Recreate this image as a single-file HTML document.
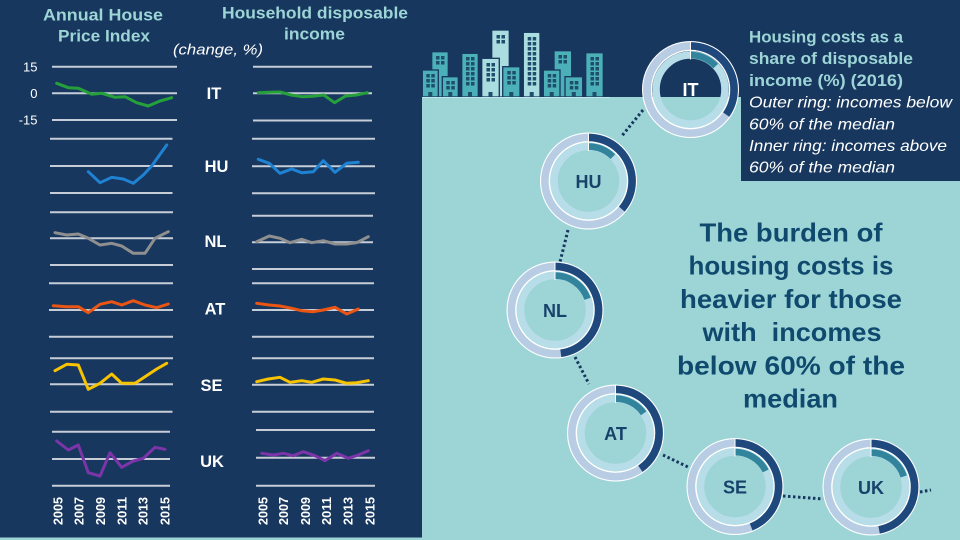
<!DOCTYPE html>
<html>
<head>
<meta charset="utf-8">
<style>
html,body{margin:0;padding:0;background:#17375e;}
svg{display:block;}
text{font-family:"Liberation Sans",sans-serif;}
</style>
</head>
<body>
<svg width="960" height="540" viewBox="0 0 960 540" xmlns="http://www.w3.org/2000/svg">
<rect x="0" y="0" width="960" height="540" fill="#17375e"/>
<rect x="422" y="97" width="538" height="443" fill="#9dd5d7"/>
<rect x="0" y="537.5" width="960" height="2.5" fill="#9dd5d7"/>
<rect x="741" y="0" width="219" height="181" fill="#17375e"/>

<!-- Buildings -->
<g stroke="#17375e" stroke-width="1.3">
  <rect x="431.7" y="51.7" width="16.6" height="45.3" fill="#4bb0b8"/>
  <rect x="491.7" y="30" width="17.6" height="67" fill="#a9dde0"/>
  <rect x="554" y="50.7" width="17.7" height="46.3" fill="#4bb0b8"/>
  <rect x="422.3" y="70" width="16" height="27" fill="#4bb0b8"/>
  <rect x="442.3" y="76.7" width="16" height="20.3" fill="#4bb0b8"/>
  <rect x="461.7" y="53.3" width="16.6" height="43.7" fill="#4bb0b8"/>
  <rect x="481.7" y="58.3" width="17.6" height="38.7" fill="#a9dde0"/>
  <rect x="502.7" y="66.7" width="17.3" height="30.3" fill="#4bb0b8"/>
  <rect x="523.3" y="32.3" width="16.7" height="64.7" fill="#a9dde0"/>
  <rect x="543.3" y="70" width="16.7" height="27" fill="#4bb0b8"/>
  <rect x="565" y="76.7" width="17.7" height="20.3" fill="#4bb0b8"/>
  <rect x="585.7" y="52.7" width="17.6" height="44.3" fill="#4bb0b8"/>
</g>
<g fill="#1f4d6c">
  <rect x="436" y="56" width="3.5" height="3.5"/><rect x="441" y="56" width="3.5" height="3.5"/>
  <rect x="436" y="61" width="3.5" height="3.5"/><rect x="441" y="61" width="3.5" height="3.5"/>
  <rect x="496.5" y="35" width="3.5" height="3.5"/><rect x="501.5" y="35" width="3.5" height="3.5"/>
  <rect x="496.5" y="40" width="3.5" height="3.5"/><rect x="501.5" y="40" width="3.5" height="3.5"/>
  <rect x="558.5" y="55" width="3.5" height="3.5"/><rect x="563.5" y="55" width="3.5" height="3.5"/>
  <rect x="558.5" y="60" width="3.5" height="3.5"/><rect x="563.5" y="60" width="3.5" height="3.5"/>
  <rect x="426.3" y="74" width="3.5" height="3.5"/><rect x="431.3" y="74" width="3.5" height="3.5"/>
  <rect x="426.3" y="79" width="3.5" height="3.5"/><rect x="431.3" y="79" width="3.5" height="3.5"/>
  <rect x="426.3" y="84" width="3.5" height="3.5"/><rect x="431.3" y="84" width="3.5" height="3.5"/>
  <rect x="446.3" y="81" width="3.5" height="3.5"/><rect x="451.3" y="81" width="3.5" height="3.5"/>
  <rect x="446.3" y="86" width="3.5" height="3.5"/><rect x="451.3" y="86" width="3.5" height="3.5"/>
  <rect x="466" y="57" width="3.5" height="3.5"/><rect x="471" y="57" width="3.5" height="3.5"/>
  <rect x="466" y="62" width="3.5" height="3.5"/><rect x="471" y="62" width="3.5" height="3.5"/>
  <rect x="466" y="67" width="3.5" height="3.5"/><rect x="471" y="67" width="3.5" height="3.5"/>
  <rect x="466" y="72" width="3.5" height="3.5"/><rect x="471" y="72" width="3.5" height="3.5"/>
  <rect x="466" y="77" width="3.5" height="3.5"/><rect x="471" y="77" width="3.5" height="3.5"/>
  <rect x="466" y="82" width="3.5" height="3.5"/><rect x="471" y="82" width="3.5" height="3.5"/>
  <rect x="486.5" y="63" width="3.5" height="3.5"/><rect x="491.5" y="63" width="3.5" height="3.5"/>
  <rect x="486.5" y="68" width="3.5" height="3.5"/><rect x="491.5" y="68" width="3.5" height="3.5"/>
  <rect x="486.5" y="73" width="3.5" height="3.5"/><rect x="491.5" y="73" width="3.5" height="3.5"/>
  <rect x="486.5" y="78" width="3.5" height="3.5"/><rect x="491.5" y="78" width="3.5" height="3.5"/>
  <rect x="507.3" y="71" width="3.5" height="3.5"/><rect x="512.3" y="71" width="3.5" height="3.5"/>
  <rect x="507.3" y="76" width="3.5" height="3.5"/><rect x="512.3" y="76" width="3.5" height="3.5"/>
  <rect x="507.3" y="81" width="3.5" height="3.5"/><rect x="512.3" y="81" width="3.5" height="3.5"/>
  <rect x="527.7" y="37" width="3.5" height="3.5"/><rect x="532.7" y="37" width="3.5" height="3.5"/>
  <rect x="527.7" y="42" width="3.5" height="3.5"/><rect x="532.7" y="42" width="3.5" height="3.5"/>
  <rect x="527.7" y="47" width="3.5" height="3.5"/><rect x="532.7" y="47" width="3.5" height="3.5"/>
  <rect x="527.7" y="52" width="3.5" height="3.5"/><rect x="532.7" y="52" width="3.5" height="3.5"/>
  <rect x="527.7" y="57" width="3.5" height="3.5"/><rect x="532.7" y="57" width="3.5" height="3.5"/>
  <rect x="527.7" y="62" width="3.5" height="3.5"/><rect x="532.7" y="62" width="3.5" height="3.5"/>
  <rect x="527.7" y="67" width="3.5" height="3.5"/><rect x="532.7" y="67" width="3.5" height="3.5"/>
  <rect x="527.7" y="72" width="3.5" height="3.5"/><rect x="532.7" y="72" width="3.5" height="3.5"/>
  <rect x="527.7" y="77" width="3.5" height="3.5"/><rect x="532.7" y="77" width="3.5" height="3.5"/>
  <rect x="527.7" y="82" width="3.5" height="3.5"/><rect x="532.7" y="82" width="3.5" height="3.5"/>
  <rect x="547.7" y="74" width="3.5" height="3.5"/><rect x="552.7" y="74" width="3.5" height="3.5"/>
  <rect x="547.7" y="79" width="3.5" height="3.5"/><rect x="552.7" y="79" width="3.5" height="3.5"/>
  <rect x="547.7" y="84" width="3.5" height="3.5"/><rect x="552.7" y="84" width="3.5" height="3.5"/>
  <rect x="569.8" y="81" width="3.5" height="3.5"/><rect x="574.8" y="81" width="3.5" height="3.5"/>
  <rect x="569.8" y="86" width="3.5" height="3.5"/><rect x="574.8" y="86" width="3.5" height="3.5"/>
  <rect x="590.5" y="57" width="3.5" height="3.5"/><rect x="595.5" y="57" width="3.5" height="3.5"/>
  <rect x="590.5" y="62" width="3.5" height="3.5"/><rect x="595.5" y="62" width="3.5" height="3.5"/>
  <rect x="590.5" y="67" width="3.5" height="3.5"/><rect x="595.5" y="67" width="3.5" height="3.5"/>
  <rect x="590.5" y="72" width="3.5" height="3.5"/><rect x="595.5" y="72" width="3.5" height="3.5"/>
  <rect x="590.5" y="77" width="3.5" height="3.5"/><rect x="595.5" y="77" width="3.5" height="3.5"/>
  <rect x="590.5" y="82" width="3.5" height="3.5"/><rect x="595.5" y="82" width="3.5" height="3.5"/>
  <rect x="428.3" y="92" width="4" height="5"/><rect x="448.3" y="92" width="4" height="5"/>
  <rect x="468" y="92" width="4" height="5"/><rect x="488.5" y="92" width="4" height="5"/>
  <rect x="509.3" y="92" width="4" height="5"/><rect x="529.7" y="92" width="4" height="5"/>
  <rect x="549.7" y="92" width="4" height="5"/><rect x="571.8" y="92" width="4" height="5"/>
  <rect x="592.5" y="92" width="4" height="5"/>
</g>
<line x1="422" y1="97.5" x2="610" y2="97.5" stroke="#bfe6e8" stroke-width="1"/>

<!-- dotted connectors -->
<g stroke="#17375e" stroke-width="3" stroke-dasharray="2.5 2.5" fill="none">
  <line x1="643" y1="110" x2="621" y2="137"/>
  <line x1="568" y1="230" x2="560" y2="262"/>
  <line x1="575" y1="357" x2="589" y2="384"/>
  <line x1="663" y1="455" x2="688" y2="467"/>
  <line x1="783" y1="496" x2="823" y2="499"/>
  <line x1="920" y1="492" x2="931" y2="490"/>
</g>

<!-- Donuts -->
<defs>
  <g id="ring">
    <circle r="47.8" fill="none" stroke="#ffffff" stroke-width="1.4"/>
    <circle r="43.6" fill="none" stroke="#b8cce4" stroke-width="7.6"/>
    <circle r="39.1" fill="none" stroke="#ffffff" stroke-width="1.5"/>
    <circle r="34.4" fill="none" stroke="#b6dde8" stroke-width="7.4"/>
  </g>
</defs>
<g transform="translate(690.5,89.5)">
  <use href="#ring"/>
  <circle r="43.6" fill="none" stroke="#1f497d" stroke-width="7.6" stroke-dasharray="95.1 400" transform="rotate(-90)"/>
  <circle r="34.4" fill="none" stroke="#31849b" stroke-width="6.6" stroke-dasharray="28.2 400" transform="rotate(-90)"/>
  <line x1="0" y1="-48" x2="0" y2="-30" stroke="#fff" stroke-width="1"/>
  <text x="0" y="6.5" text-anchor="middle" font-size="18" font-weight="bold" fill="#ffffff">IT</text>
</g>
<g transform="translate(588.5,181)">
  <use href="#ring"/>
  <circle r="43.6" fill="none" stroke="#1f497d" stroke-width="7.6" stroke-dasharray="98.9 400" transform="rotate(-90)"/>
  <circle r="34.4" fill="none" stroke="#31849b" stroke-width="6.6" stroke-dasharray="27.0 400" transform="rotate(-90)"/>
  <line x1="0" y1="-48" x2="0" y2="-30" stroke="#fff" stroke-width="1"/>
  <text x="0" y="7" text-anchor="middle" font-size="18" font-weight="bold" fill="#17426a">HU</text>
</g>
<g transform="translate(555,310)">
  <use href="#ring"/>
  <circle r="43.6" fill="none" stroke="#1f497d" stroke-width="7.6" stroke-dasharray="130.9 400" transform="rotate(-90)"/>
  <circle r="34.4" fill="none" stroke="#31849b" stroke-width="6.6" stroke-dasharray="42.6 400" transform="rotate(-90)"/>
  <line x1="0" y1="-48" x2="0" y2="-30" stroke="#fff" stroke-width="1"/>
  <text x="0" y="7" text-anchor="middle" font-size="18" font-weight="bold" fill="#17426a">NL</text>
</g>
<g transform="translate(615.5,433)">
  <use href="#ring"/>
  <circle r="43.6" fill="none" stroke="#1f497d" stroke-width="7.6" stroke-dasharray="110.3 400" transform="rotate(-90)"/>
  <circle r="34.4" fill="none" stroke="#31849b" stroke-width="6.6" stroke-dasharray="33.0 400" transform="rotate(-90)"/>
  <line x1="0" y1="-48" x2="0" y2="-30" stroke="#fff" stroke-width="1"/>
  <text x="0" y="7" text-anchor="middle" font-size="18" font-weight="bold" fill="#17426a">AT</text>
</g>
<g transform="translate(735,486.5)">
  <use href="#ring"/>
  <circle r="43.6" fill="none" stroke="#1f497d" stroke-width="7.6" stroke-dasharray="120.2 400" transform="rotate(-90)"/>
  <circle r="34.4" fill="none" stroke="#31849b" stroke-width="6.6" stroke-dasharray="37.8 400" transform="rotate(-90)"/>
  <line x1="0" y1="-48" x2="0" y2="-30" stroke="#fff" stroke-width="1"/>
  <text x="0" y="7" text-anchor="middle" font-size="18" font-weight="bold" fill="#17426a">SE</text>
</g>
<g transform="translate(871,487)">
  <use href="#ring"/>
  <circle r="43.6" fill="none" stroke="#1f497d" stroke-width="7.6" stroke-dasharray="128.6 400" transform="rotate(-90)"/>
  <circle r="34.4" fill="none" stroke="#31849b" stroke-width="6.6" stroke-dasharray="43.2 400" transform="rotate(-90)"/>
  <line x1="0" y1="-48" x2="0" y2="-30" stroke="#fff" stroke-width="1"/>
  <text x="0" y="7" text-anchor="middle" font-size="18" font-weight="bold" fill="#17426a">UK</text>
</g>

<!-- Main message -->
<g font-size="26" font-weight="bold" fill="#0f4a6e" text-anchor="middle">
  <text x="791" y="241.5" textLength="183" lengthAdjust="spacingAndGlyphs">The burden of</text>
  <text x="791" y="274.7" textLength="205" lengthAdjust="spacingAndGlyphs">housing costs is</text>
  <text x="791" y="307.9" textLength="222" lengthAdjust="spacingAndGlyphs">heavier for those</text>
  <text x="792" y="341.1" textLength="179" lengthAdjust="spacingAndGlyphs">with&#160; incomes</text>
  <text x="791" y="374.3" textLength="228" lengthAdjust="spacingAndGlyphs">below 60% of the</text>
  <text x="790.5" y="407.5" textLength="95" lengthAdjust="spacingAndGlyphs">median</text>
</g>

<!-- Legend text -->
<g font-size="16.5" font-weight="bold" fill="#9dd5d7">
  <text x="749" y="42.5" textLength="154" lengthAdjust="spacingAndGlyphs">Housing costs as a</text>
  <text x="749" y="64.2" textLength="164" lengthAdjust="spacingAndGlyphs">share of disposable</text>
  <text x="749" y="85.9" textLength="154" lengthAdjust="spacingAndGlyphs">income (%) (2016)</text>
</g>
<g font-size="16" font-style="italic" fill="#ffffff">
  <text x="749" y="107.5" textLength="203" lengthAdjust="spacingAndGlyphs">Outer ring: incomes below</text>
  <text x="749" y="129.3" textLength="146" lengthAdjust="spacingAndGlyphs">60% of the median</text>
  <text x="749" y="150.8" textLength="198" lengthAdjust="spacingAndGlyphs">Inner ring: incomes above</text>
  <text x="749" y="172.4" textLength="146" lengthAdjust="spacingAndGlyphs">60% of the median</text>
</g>

<!-- Left titles -->
<g font-size="16.5" font-weight="bold" fill="#9dd5d7" text-anchor="middle">
  <text x="103" y="20.7" textLength="120" lengthAdjust="spacingAndGlyphs">Annual House</text>
  <text x="104" y="41.7" textLength="92" lengthAdjust="spacingAndGlyphs">Price Index</text>
  <text x="315" y="18.3" textLength="186" lengthAdjust="spacingAndGlyphs">Household disposable</text>
  <text x="314.5" y="39.3" textLength="61" lengthAdjust="spacingAndGlyphs">income</text>
</g>
<text x="218" y="54.3" text-anchor="middle" font-size="15" font-style="italic" fill="#ffffff" textLength="90" lengthAdjust="spacingAndGlyphs">(change, %)</text>

<!-- y labels -->
<g font-size="13" fill="#ffffff" text-anchor="end">
  <text x="37.5" y="71.3">15</text>
  <text x="37.5" y="97.8">0</text>
  <text x="37.5" y="124.6">-15</text>
</g>

<!-- Grid lines -->
<g stroke="#c6cdd7" stroke-width="2">
  <line x1="52" y1="66.7" x2="177" y2="66.7"/>
  <line x1="52" y1="93.3" x2="177" y2="93.3"/>
  <line x1="52" y1="120" x2="177" y2="120"/>
  <line x1="50" y1="138.7" x2="172.5" y2="138.7"/>
  <line x1="50" y1="166" x2="172.5" y2="166"/>
  <line x1="50" y1="193" x2="172.5" y2="193"/>
  <line x1="50" y1="212.3" x2="173" y2="212.3"/>
  <line x1="50" y1="238.3" x2="173" y2="238.3"/>
  <line x1="50" y1="265" x2="173" y2="265"/>
  <line x1="49" y1="283.3" x2="173" y2="283.3"/>
  <line x1="49" y1="310" x2="173" y2="310"/>
  <line x1="49" y1="336.7" x2="173" y2="336.7"/>
  <line x1="50" y1="358.3" x2="173" y2="358.3"/>
  <line x1="50" y1="384.3" x2="173" y2="384.3"/>
  <line x1="50" y1="411.7" x2="172.5" y2="411.7"/>
  <line x1="52" y1="431.7" x2="170" y2="431.7"/>
  <line x1="52" y1="459" x2="170" y2="459"/>
  <line x1="52" y1="485.7" x2="170" y2="485.7"/>

  <line x1="253" y1="66.7" x2="372" y2="66.7"/>
  <line x1="253" y1="93.3" x2="372" y2="93.3"/>
  <line x1="253" y1="120.5" x2="372" y2="120.5"/>
  <line x1="252" y1="138.7" x2="375" y2="138.7"/>
  <line x1="252" y1="166.3" x2="375" y2="166.3"/>
  <line x1="252" y1="193.3" x2="375" y2="193.3"/>
  <line x1="252" y1="215.7" x2="373" y2="215.7"/>
  <line x1="252" y1="242.3" x2="373" y2="242.3"/>
  <line x1="252" y1="269" x2="373" y2="269"/>
  <line x1="252" y1="283.3" x2="374" y2="283.3"/>
  <line x1="252" y1="310" x2="374" y2="310"/>
  <line x1="252" y1="336.7" x2="374" y2="336.7"/>
  <line x1="252" y1="358.3" x2="374" y2="358.3"/>
  <line x1="252" y1="384.7" x2="374" y2="384.7"/>
  <line x1="252" y1="411.7" x2="374" y2="411.7"/>
  <line x1="256" y1="430" x2="375" y2="430"/>
  <line x1="256" y1="457.7" x2="375" y2="457.7"/>
  <line x1="256" y1="485.7" x2="375" y2="485.7"/>
</g>

<!-- Country labels -->
<g font-size="16.5" font-weight="bold" fill="#ffffff" text-anchor="middle">
  <text x="214" y="99">IT</text>
  <text x="216.5" y="172">HU</text>
  <text x="215.5" y="247">NL</text>
  <text x="215" y="314.5">AT</text>
  <text x="211.5" y="391">SE</text>
  <text x="212" y="467">UK</text>
</g>

<!-- Series -->
<g fill="none" stroke-width="3" stroke-linejoin="round" stroke-linecap="round">
  <polyline stroke="#25a03a" points="56.7,83.3 68.3,87.7 78.3,88.3 91.7,94.3 101.7,93.3 115,97.3 125,96.7 136.7,102.7 148.3,106 160,101 171.7,97.7"/>
  <polyline stroke="#25a03a" points="258.3,92.7 269.2,92.3 280.1,92 291,95 301.9,96.7 312.8,96.3 323.7,95 334.6,102.7 345.5,96 356.4,95 367.3,92.7"/>

  <polyline stroke="#1f82d2" points="88.3,171.7 100,182.7 111.7,177.3 123.3,179 133.3,183.3 143.3,175 151.7,166 166.7,145"/>
  <polyline stroke="#1f82d2" points="258.3,159.3 269.3,163.3 280,173.3 291.7,169 301.7,172.7 313.3,171.7 323.3,160.7 335,172.3 346.7,163.3 358.3,162.3"/>

  <polyline stroke="#8f8f8f" points="55,232.7 66.7,235 78.3,234 88.3,238.3 100,245 111.7,243.3 121.7,246 133.3,253.3 145,253.3 155,238.3 168.3,231.7"/>
  <polyline stroke="#8f8f8f" points="256.7,241.7 269.3,236 280,238.3 290,242.7 301.7,239.3 311.7,242.7 323.3,240.7 335,244 346.7,244 356.7,242.7 368.3,236.7"/>

  <polyline stroke="#ea5514" points="53.3,305.7 66.7,306.7 78.3,306.7 88.3,312.7 100,304.3 111.7,301.7 121.7,305 133.3,300.7 145,305 156.7,307.7 168.3,304"/>
  <polyline stroke="#ea5514" points="256.7,303.3 269.3,305 280,306 291.7,308.3 301.7,310.7 313.3,311.7 323.3,310 335,307.3 346.7,314 358.3,309"/>

  <polyline stroke="#f7c300" points="55,370.7 66.7,364.3 78.3,365 88.3,389.3 100,383.3 111.7,374 121.7,383.3 135,383.3 145,376.7 156.7,369 166.7,363.3"/>
  <polyline stroke="#f7c300" points="256.7,381.7 268.3,379 280,377.3 290,382.3 301.7,380.7 311.7,382.3 323.3,379 335,380 346.7,383.3 356.7,382.7 368.3,380.7"/>

  <polyline stroke="#7b35a8" points="56.7,441 68.3,450 78.3,445 88.3,472.7 100,476 110,452.7 121.7,467.3 133.3,461 143.3,458.3 155,447.3 165,449.3"/>
  <polyline stroke="#7b35a8" points="261.7,453.3 273.3,455 283.3,453.3 293.3,455.7 303.3,451.7 315,455.7 325,460.7 336.7,453.3 348.3,458.3 358.3,455 368.3,450.7"/>
</g>

<!-- Year labels -->
<g font-size="12.5" font-weight="bold" fill="#ffffff">
  <text transform="translate(62.5,525) rotate(-90)" textLength="28" lengthAdjust="spacingAndGlyphs">2005</text>
  <text transform="translate(83.5,525) rotate(-90)" textLength="28" lengthAdjust="spacingAndGlyphs">2007</text>
  <text transform="translate(105,525) rotate(-90)" textLength="28" lengthAdjust="spacingAndGlyphs">2009</text>
  <text transform="translate(126.5,525) rotate(-90)" textLength="28" lengthAdjust="spacingAndGlyphs">2011</text>
  <text transform="translate(147.5,525) rotate(-90)" textLength="28" lengthAdjust="spacingAndGlyphs">2013</text>
  <text transform="translate(169.5,525) rotate(-90)" textLength="28" lengthAdjust="spacingAndGlyphs">2015</text>

  <text transform="translate(267.5,525) rotate(-90)" textLength="28" lengthAdjust="spacingAndGlyphs">2005</text>
  <text transform="translate(288,525) rotate(-90)" textLength="28" lengthAdjust="spacingAndGlyphs">2007</text>
  <text transform="translate(310,525) rotate(-90)" textLength="28" lengthAdjust="spacingAndGlyphs">2009</text>
  <text transform="translate(331,525) rotate(-90)" textLength="28" lengthAdjust="spacingAndGlyphs">2011</text>
  <text transform="translate(352.5,525) rotate(-90)" textLength="28" lengthAdjust="spacingAndGlyphs">2013</text>
  <text transform="translate(374.5,525) rotate(-90)" textLength="28" lengthAdjust="spacingAndGlyphs">2015</text>
</g>
</svg>
</body>
</html>
